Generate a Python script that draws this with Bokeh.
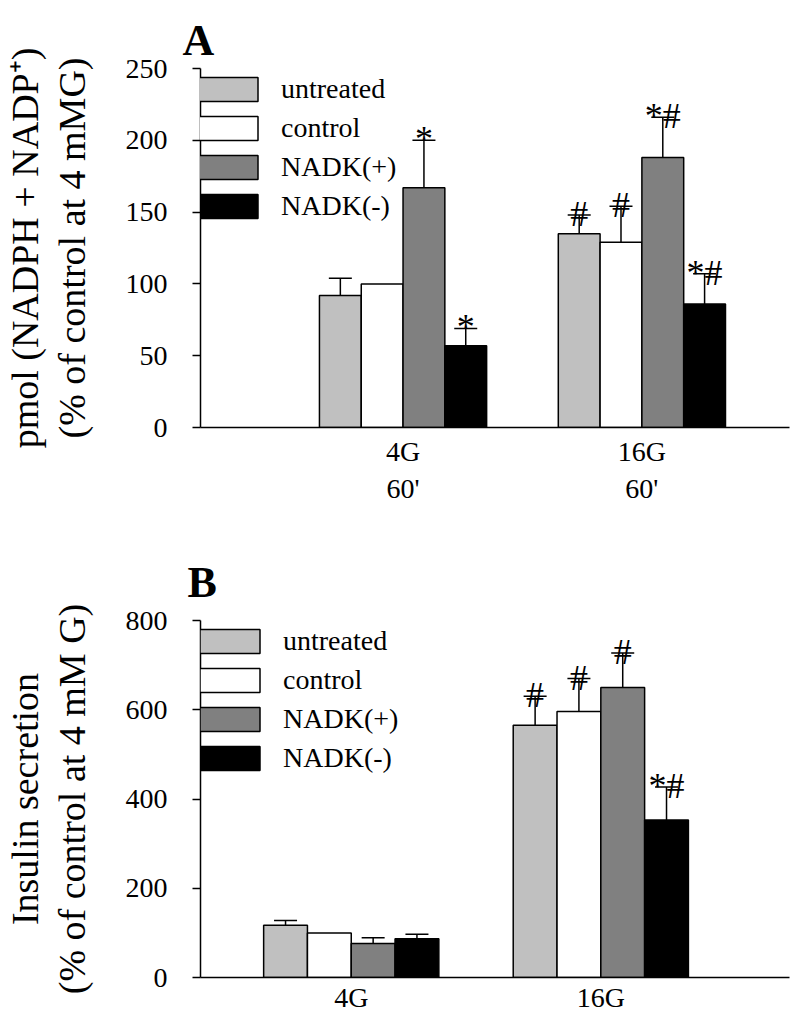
from bokeh.plotting import figure
from bokeh.models import (Range1d, LinearAxis, FixedTicker, Whisker, TeeHead,
                          ColumnDataSource, Legend, LegendItem)
from bokeh.layouts import column
from bokeh.core.properties import value
from bokeh.embed import file_html
from bokeh.resources import INLINE

FONT = "Liberation Serif"

# ---------------- data ----------------
series = ["untreated", "control", "NADK(+)", "NADK(-)"]
colors = ["#c0c0c0", "#ffffff", "#808080", "#000000"]
group_pos = [1, 2]

# Panel A: pmol (NADPH + NADP+), % of control at 4 mM G
a_groups = ["4G", "16G"]
a_times = ["60'", "60'"]
a_untreated = [92, 135]
a_control = [100, 129]
a_nadk_plus = [167, 188]
a_nadk_minus = [57, 86]
a_err_untreated = [12, 13]
a_err_control = [0, 25]
a_err_nadk_plus = [33, 28]
a_err_nadk_minus = [12, 21]
a_mark_untreated = ["", "#"]
a_mark_control = ["", "#"]
a_mark_nadk_plus = ["*", "*#"]
a_mark_nadk_minus = ["*", "*#"]
a_yticks = [0, 50, 100, 150, 200, 250]

# Panel B: insulin secretion, % of control at 4 mM G
b_groups = ["4G", "16G"]
b_untreated = [117, 565]
b_control = [100, 596]
b_nadk_plus = [76, 650]
b_nadk_minus = [87, 353]
b_err_untreated = [11, 65]
b_err_control = [0, 74]
b_err_nadk_plus = [13, 77]
b_err_nadk_minus = [10, 74]
b_mark_untreated = ["", "#"]
b_mark_control = ["", "#"]
b_mark_nadk_plus = ["", "#"]
b_mark_nadk_minus = ["", "*#"]
b_yticks = [0, 200, 400, 600, 800]


def panel(title, tick_labels, means, errs, marks, ymax, yticks, ylab1, ylab2,
          xr, bw, height, btop, bbot, title_offset, title_standoff, xstandoff, leg_loc):
    p = figure(width=790, height=height, x_range=Range1d(*xr),
               y_range=Range1d(0, ymax), output_backend="svg",
               toolbar_location=None, min_border_left=193, min_border_right=1,
               min_border_top=btop, min_border_bottom=bbot)
    p.outline_line_color = None
    p.xgrid.visible = False
    p.ygrid.visible = False

    p.title.text = title
    p.title.text_font = FONT
    p.title.text_font_size = "44px"
    p.title.text_font_style = "bold"
    p.title.text_color = "black"
    p.title.align = "left"
    p.title.offset = title_offset
    p.title.standoff = title_standoff

    ya = p.yaxis[0]
    ya.ticker = FixedTicker(ticks=yticks)
    ya.major_tick_out = 8
    ya.major_tick_in = 0
    ya.minor_tick_out = 0
    ya.minor_tick_in = 0
    ya.major_tick_line_width = 1.5
    ya.axis_line_width = 1.5
    ya.major_label_standoff = 25
    ya.major_label_text_font = FONT
    ya.major_label_text_font_size = "28px"
    ya.major_label_text_color = "black"
    ya.axis_label = ylab2
    ya.axis_label_text_font = FONT
    ya.axis_label_text_font_size = "38px"
    ya.axis_label_text_font_style = "normal"
    ya.axis_label_text_color = "black"
    ya.axis_label_standoff = 30

    xa = p.xaxis[0]
    xa.ticker = FixedTicker(ticks=group_pos)
    xa.major_label_overrides = {g: t for g, t in zip(group_pos, tick_labels)}
    xa.major_tick_out = 0
    xa.major_tick_in = 0
    xa.minor_tick_out = 0
    xa.minor_tick_in = 0
    xa.major_tick_line_color = None
    xa.minor_tick_line_color = None
    xa.axis_line_width = 1.5
    xa.major_label_standoff = xstandoff
    xa.major_label_text_font = FONT
    xa.major_label_text_font_size = "28px"
    xa.major_label_text_color = "black"

    outer = LinearAxis(ticker=FixedTicker(ticks=[]), axis_label=ylab1,
                       axis_line_color=None, major_tick_out=0, major_tick_in=0,
                       minor_tick_out=0, minor_tick_in=0,
                       major_tick_line_color=None, minor_tick_line_color=None,
                       axis_label_text_font=FONT, axis_label_text_font_size="38px",
                       axis_label_text_font_style="normal",
                       axis_label_text_color="black", axis_label_standoff=2)
    p.add_layout(outer, "left")

    items = []
    wx, wl, wu = [], [], []
    tx, ty, tt = [], [], []
    for i, name in enumerate(series):
        xs = [g + (i - 1.5) * bw for g in group_pos]
        src = ColumnDataSource(dict(x=xs, top=means[i]))
        r = p.vbar(x="x", top="top", width=bw, bottom=0, source=src,
                   fill_color=colors[i], line_color="black", line_width=1.5)
        items.append(LegendItem(label=name, renderers=[r]))
        for x, m, e, t in zip(xs, means[i], errs[i], marks[i]):
            if e > 0:
                wx.append(x)
                wl.append(m)
                wu.append(m + e)
            if t:
                tx.append(x)
                ty.append(m + e)
                tt.append(t)

    wsrc = ColumnDataSource(dict(x=wx, lower=wl, upper=wu))
    p.add_layout(Whisker(source=wsrc, base="x", lower="lower", upper="upper",
                         dimension="height", line_width=1.5, line_color="black",
                         upper_head=TeeHead(size=23, line_width=1.5, line_color="black"),
                         lower_head=None, level="glyph"))

    tsrc = ColumnDataSource(dict(x=tx, y=ty, text=tt))
    p.text(x="x", y="y", text="text", source=tsrc, text_font=value(FONT),
           text_font_size="36px", text_align="center",
           text_baseline="alphabetic", text_color="black", y_offset=-1)

    legend = Legend(items=items, location=leg_loc, glyph_width=75,
                    glyph_height=30, label_standoff=16, label_text_font=FONT,
                    label_text_font_size="28px", label_text_color="black",
                    spacing=7, padding=0, margin=0, border_line_color=None,
                    background_fill_alpha=0)
    p.add_layout(legend)
    return p


a_labels = [g + "\n" + t for g, t in zip(a_groups, a_times)]
pA = panel("A", a_labels,
           [a_untreated, a_control, a_nadk_plus, a_nadk_minus],
           [a_err_untreated, a_err_control, a_err_nadk_plus, a_err_nadk_minus],
           [a_mark_untreated, a_mark_control, a_mark_nadk_plus, a_mark_nadk_minus],
           250, a_yticks, "pmol (NADPH + NADP\u207a)", "(% of control at 4 mMG)",
           (0.152, 2.618), 0.175, 510, 68, 83, -18, 7, 8, (-10, 205))

pB = panel("B", b_groups,
           [b_untreated, b_control, b_nadk_plus, b_nadk_minus],
           [b_err_untreated, b_err_control, b_err_nadk_plus, b_err_nadk_minus],
           [b_mark_untreated, b_mark_control, b_mark_nadk_plus, b_mark_nadk_minus],
           800, b_yticks, "Insulin secretion", "(% of control at 4 mM G)",
           (0.396, 2.756), 0.1755, 505, 110, 36, -13, 28, 4, (-8, 203))

layout = column(pA, pB)
open("out.html", "w").write(file_html(layout, INLINE))
